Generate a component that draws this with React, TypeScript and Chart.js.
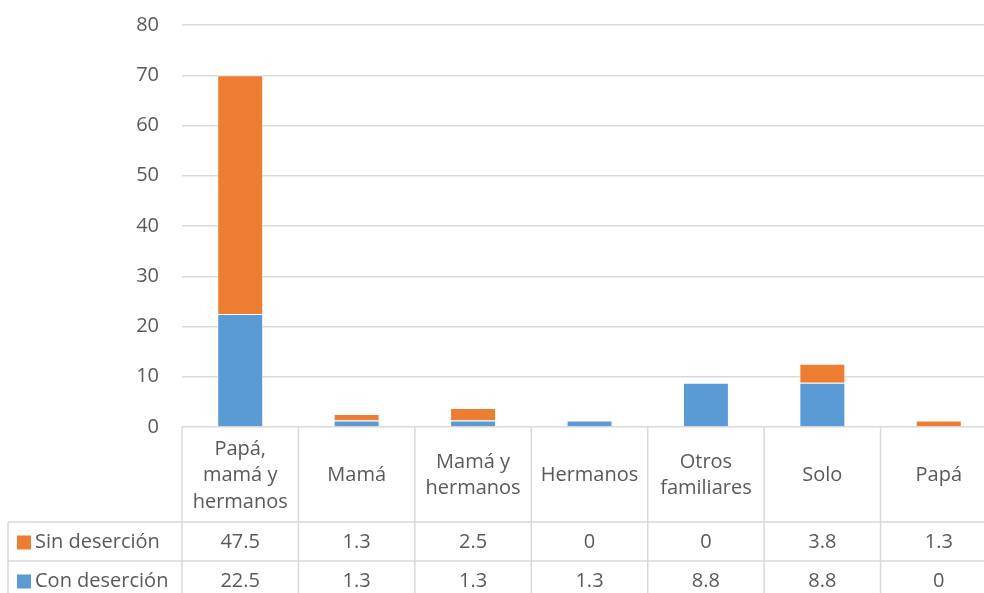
import React, { useEffect, useRef } from "react";
import { Chart, registerables } from "chart.js";

Chart.register(...registerables);

const categories: string[][] = [
  ["Papá,", "mamá y", "hermanos"],
  ["Mamá"],
  ["Mamá y", "hermanos"],
  ["Hermanos"],
  ["Otros", "familiares"],
  ["Solo"],
  ["Papá"],
];
const sinDesercion = [47.5, 1.3, 2.5, 0, 0, 3.8, 1.3];
const conDesercion = [22.5, 1.3, 1.3, 1.3, 8.8, 8.8, 0];
const seriesNames = ["Sin deserción", "Con deserción"];
const yMin = 0;
const yMax = 80;
const yStep = 10;

const ORANGE = "#ED7D31";
const BLUE = "#5B9BD5";
const TEXT = "#595959";
const GRID = "#d9d9d9";
const FONT = "'Open Sans', sans-serif";

const tablePlugin = {
  id: "dataTable",
  afterDraw(chart: any) {
    const ctx = chart.ctx;
    const { left, right, bottom } = chart.chartArea;
    const xs = chart.scales.x;
    const n = categories.length;
    const catW = (right - left) / n;
    const H = chart.height;
    const headerBottom = bottom + 95;
    const rowH = 39;
    const tableLeft = 8;

    ctx.save();
    ctx.strokeStyle = GRID;
    ctx.lineWidth = 1.5;
    ctx.beginPath();
    for (let i = 0; i <= n; i++) {
      const x = i < n ? xs.getPixelForValue(i) - catW / 2 : xs.getPixelForValue(n - 1) + catW / 2;
      ctx.moveTo(x, bottom);
      ctx.lineTo(x, H);
    }
    ctx.moveTo(tableLeft, headerBottom);
    ctx.lineTo(tableLeft, H);
    ctx.moveTo(tableLeft, headerBottom);
    ctx.lineTo(right, headerBottom);
    ctx.moveTo(tableLeft, headerBottom + rowH);
    ctx.lineTo(right, headerBottom + rowH);
    ctx.stroke();

    ctx.fillStyle = TEXT;
    ctx.font = `20px ${FONT}`;
    ctx.textAlign = "center";
    ctx.textBaseline = "middle";
    const lineH = 26.5;
    const headerMid = (bottom + headerBottom) / 2 + 1;
    categories.forEach((lines, i) => {
      const cx = xs.getPixelForValue(i);
      const y0 = headerMid - ((lines.length - 1) * lineH) / 2;
      lines.forEach((l, j) => ctx.fillText(l, cx, y0 + j * lineH));
    });

    const rows = [
      { name: seriesNames[0], color: ORANGE, data: sinDesercion },
      { name: seriesNames[1], color: BLUE, data: conDesercion },
    ];
    rows.forEach((r, k) => {
      const cy = headerBottom + rowH * k + rowH / 2 + 1;
      ctx.fillStyle = r.color;
      ctx.fillRect(17, cy - 7, 14, 14);
      ctx.fillStyle = TEXT;
      ctx.textAlign = "left";
      ctx.fillText(r.name, 35, cy);
      ctx.textAlign = "center";
      r.data.forEach((v, i) => {
        ctx.fillText(String(v), xs.getPixelForValue(i), cy);
      });
    });
    ctx.restore();
  },
};

export default function App() {
  const ref = useRef<HTMLCanvasElement>(null);
  useEffect(() => {
    if (!ref.current) return;
    const chart = new Chart(ref.current, {
      type: "bar",
      data: {
        labels: categories.map((c) => c.join(" ")),
        datasets: [
          {
            label: seriesNames[1],
            data: conDesercion,
            backgroundColor: BLUE,
            borderColor: "rgba(255,255,255,0.7)",
            borderWidth: 1,
          },
          {
            label: seriesNames[0],
            data: sinDesercion,
            backgroundColor: ORANGE,
            borderColor: "rgba(255,255,255,0.7)",
            borderWidth: 1,
          },
        ],
      },
      options: {
        animation: false,
        responsive: true,
        maintainAspectRatio: false,
        layout: { padding: { left: 0, right: 3, top: 25, bottom: 166 } },
        datasets: { bar: { categoryPercentage: 1, barPercentage: 0.395 } },
        plugins: { legend: { display: false }, tooltip: { enabled: false } },
        scales: {
          x: { display: false, stacked: true },
          y: {
            stacked: true,
            min: yMin,
            max: yMax,
            ticks: {
              stepSize: yStep,
              color: TEXT,
              font: { family: FONT, size: 20 },
              padding: 23,
            },
            grid: { color: GRID, lineWidth: 1.5, drawTicks: false },
            border: { display: false },
            afterFit: (s: any) => {
              s.width = 182;
              s.paddingTop = 12;
              s.paddingBottom = 12;
            },
          },
        },
      },
      plugins: [tablePlugin],
    });
    return () => chart.destroy();
  }, []);
  return (
    <div style={{ position: "fixed", left: 0, top: 0, width: 984, height: 593, overflow: "hidden", background: "#fff" }}>
      <div style={{ position: "relative", width: 1000, height: 593 }}>
        <canvas ref={ref} />
      </div>
    </div>
  );
}
